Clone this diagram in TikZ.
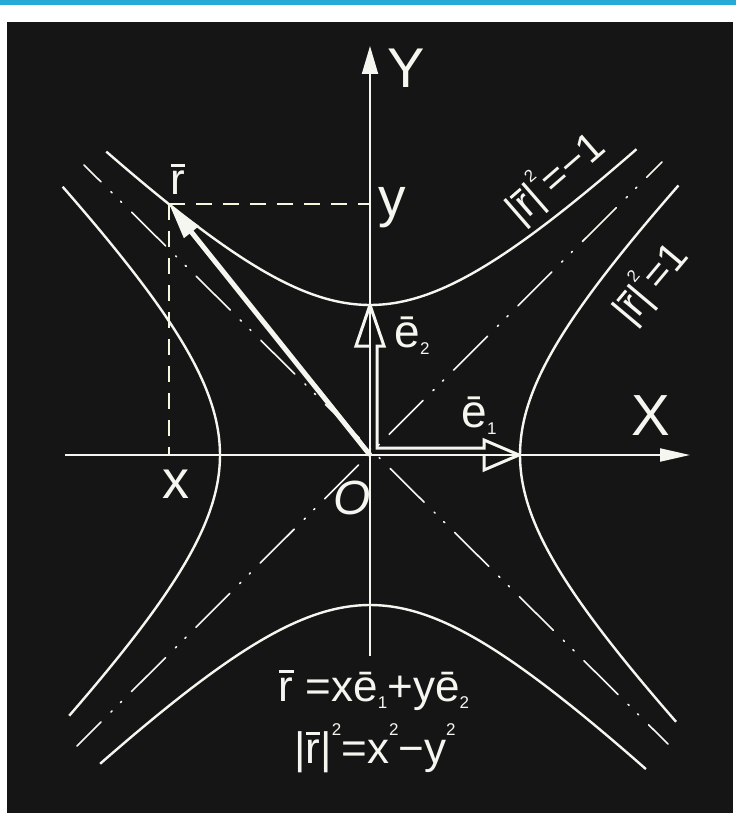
\documentclass[tikz,border=0pt]{standalone}
\usepackage{fontspec}
\setmainfont{Liberation Sans}
\usetikzlibrary{arrows.meta}
\definecolor{bg}{HTML}{151515}
\definecolor{strip}{RGB}{40,170,215}
\definecolor{ink}{HTML}{F6F6F0}
\newcommand\sub[1]{\raisebox{-0.17em}{\fontsize{17}{17}\selectfont #1}}
\newcommand\sps[1]{\raisebox{0.62em}{\fontsize{17}{17}\selectfont #1}}
\newcommand\ovr[1]{{\ooalign{#1\cr\hidewidth\rule[0.64em]{0.33em}{0.07em}\hidewidth\cr}}}
\tikzset{
  hypline/.style={draw=ink, line width=2.4pt},
  asymline/.style={draw=ink, line width=1.6pt, line cap=round,
    dash pattern=on 48pt off 14pt on 1.5pt off 12pt on 1.5pt off 14pt},
  dashline/.style={draw=ink!92!yellow, line width=2pt, dash pattern=on 16pt off 11pt},
  axisline/.style={draw=ink, line width=2pt},
  lbl/.style={text=ink, inner sep=0pt, anchor=base},
}
\begin{document}
\begin{tikzpicture}[x=1pt,y=-1pt]
\useasboundingbox (0,0) rectangle (736,818);
\fill[white] (0,0) rectangle (736,818);
\fill[strip] (0,0) rectangle (736,5);
\fill[bg] (7,22) rectangle (733,813);

% key points
\coordinate (O) at (370,455);
\coordinate (Xs) at (65,455);
\coordinate (Xe) at (690,455);
\coordinate (Ys) at (370,656);
\coordinate (Ye) at (370,46);
\coordinate (R) at (169,204);
\coordinate (Rx) at (169,455);
\coordinate (Ry) at (370,204);
\coordinate (A1s) at (77,746);
\coordinate (A1e) at (662,162);
\coordinate (A2s) at (84,165);
\coordinate (A2e) at (668,744);

% asymptotes
\draw[asymline, dash phase=14pt] (A1s) -- (A1e);
\draw[asymline, dash phase=24pt] (A2s) -- (A2e);

% hyperbolas
\draw[hypline] plot[variable=\t, domain=-1.33:1.34, samples=70, smooth]
  ({370+150*sinh(\t)},{455-150*cosh(\t)});
\draw[hypline] plot[variable=\t, domain=-1.35:1.37, samples=70, smooth]
  ({370+150*sinh(\t)},{455+150*cosh(\t)});
\draw[hypline] plot[variable=\t, domain=-1.32:1.345, samples=70, smooth]
  ({370-150*cosh(\t)},{455-150*sinh(\t)});
\draw[hypline] plot[variable=\t, domain=-1.34:1.35, samples=70, smooth]
  ({370+150*cosh(\t)},{455-150*sinh(\t)});

% dashed projections
\draw[dashline] (R) -- (Ry);
\draw[dashline] (R) -- (Rx);

% hollow heads interior
\fill[bg] (356,346) -- (370,305) -- (384,346) -- cycle;
\fill[bg] (484,440) -- (519,455) -- (484,470) -- cycle;

% axes
\draw[axisline, -{Triangle[length=30pt,width=13pt]}] (Xs) -- (Xe);
\draw[axisline, -{Triangle[length=28pt,width=16pt]}] (Ys) -- (Ye);

% basis vectors (hollow arrows)
\draw[ink, line width=3pt, line join=miter, miter limit=6]
  (370,346) -- (356,346) -- (370,305) -- (384,346) -- (377,346) -- (377,448)
  -- (484,448) -- (484,440) -- (519,455) -- (484,470) -- (484,455);

% position vector
\draw[ink, line width=5pt, -{Triangle[length=36pt,width=18pt]}] (O) -- (R);

% labels
\node[lbl, font=\fontsize{56}{60}\selectfont] (lY) at (406,88) {Y};
\node[lbl, font=\fontsize{58}{60}\selectfont] (lX) at (651,435) {X};
\node[lbl, font=\fontsize{54}{60}\selectfont] (lx) at (176,498) {x};
\node[lbl, font=\fontsize{55}{60}\selectfont] (ly) at (392,217) {y};
\node[lbl, font=\fontsize{44}{50}\selectfont] (lr) at (178,195) {\ovr{r}};
\node[lbl, font=\fontsize{48}{50}\selectfont\itshape] (lO) at (352,514) {O};
\node[lbl, font=\fontsize{46}{50}\selectfont] (le2) at (412,347) {ē\sub{2}};
\node[lbl, font=\fontsize{46}{50}\selectfont] (le1) at (479,427) {ē\sub{1}};
\node[lbl, font=\fontsize{41}{44}\selectfont, rotate=41] (lm1) at (564,188) {|\ovr{r}|\sps{2}=−1};
\node[lbl, font=\fontsize{41}{44}\selectfont, rotate=50] (lp1) at (661,292) {|\ovr{r}|\sps{2}=1};
\node[lbl, font=\fontsize{44}{50}\selectfont] (f1) at (374,701) {\ovr{r} =xē\sub{1}+yē\sub{2}};
\node[lbl, font=\fontsize{44}{50}\selectfont] (f2) at (375,763) {|\ovr{r}|\sps{2}=x\sps{2}−y\sps{2}};
\end{tikzpicture}
\end{document}
